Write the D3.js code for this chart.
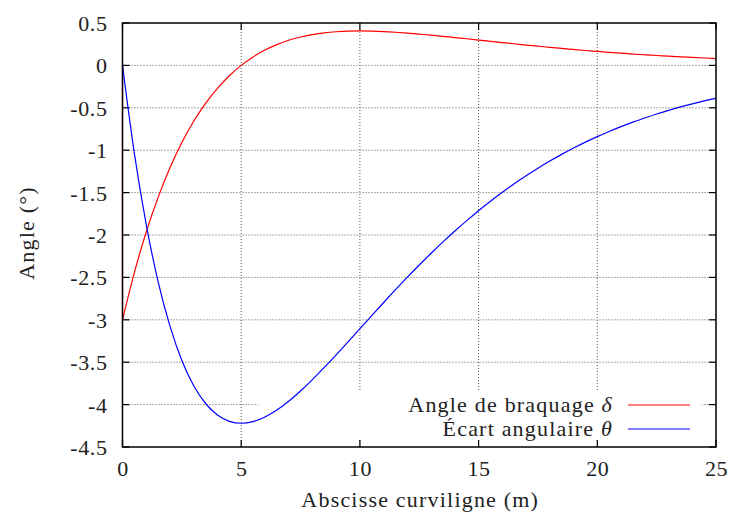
<!DOCTYPE html>
<html>
<head>
<meta charset="utf-8">
<script src="https://cdn.jsdelivr.net/npm/d3@7"></script>
<style>
  html, body { margin: 0; padding: 0; background: #fff; }
  svg text { font-family: "Liberation Serif", "DejaVu Serif", serif; fill: #222; letter-spacing: 0.6px; }
  svg text.wide { letter-spacing: 1.2px; }
</style>
</head>
<body>
<svg id="chart" width="734" height="515"></svg>
<script>
// ---- data ----
const sValues = [0,0.5,1,1.5,2,2.5,3,3.5,4,4.5,5,5.5,6,6.5,7,7.5,8,8.5,9,9.5,
                 10,10.5,11,11.5,12,12.5,13,13.5,14,14.5,15,15.5,16,16.5,17,17.5,18,18.5,19,19.5,
                 20,20.5,21,21.5,22,22.5,23,23.5,24,24.5,25];
// steering angle delta (deg); the curve starts at 0 and jumps to -3 at s = 0
const deltaStart = [0];
const deltaValues = [-3.000,-2.443,-1.965,-1.556,-1.207,-0.910,-0.659,-0.447,-0.270,-0.122,
                     0.000,0.100,0.181,0.245,0.296,0.335,0.363,0.384,0.397,0.404,
                     0.406,0.404,0.399,0.391,0.381,0.369,0.357,0.343,0.328,0.314,
                     0.299,0.284,0.269,0.255,0.240,0.227,0.213,0.200,0.188,0.176,
                     0.165,0.154,0.144,0.134,0.125,0.117,0.109,0.101,0.094,0.087,0.081];
// angular deviation theta (deg)
const thetaValues = [0.000,-1.038,-1.878,-2.549,-3.075,-3.479,-3.777,-3.987,-4.123,-4.197,
                     -4.220,-4.200,-4.146,-4.064,-3.960,-3.839,-3.705,-3.562,-3.413,-3.260,
                     -3.105,-2.950,-2.796,-2.645,-2.497,-2.354,-2.215,-2.081,-1.953,-1.830,
                     -1.713,-1.602,-1.496,-1.396,-1.302,-1.212,-1.128,-1.049,-0.975,-0.905,
                     -0.840,-0.779,-0.722,-0.669,-0.620,-0.573,-0.530,-0.490,-0.453,-0.419,-0.386];
const xTicks = [0,5,10,15,20,25];
const yTicks = [0.5,0,-0.5,-1,-1.5,-2,-2.5,-3,-3.5,-4,-4.5];
const seriesNames = ["Angle de braquage ", "Écart angulaire "];
const seriesSymbols = ["δ", "θ"];
const seriesColors = ["#ff0000", "#0000ff"];
const xTitle = "Abscisse curviligne (m)";
const yTitle = "Angle (°)";

// ---- layout ----
const svg = d3.select("#chart");
const L = 122.5, R = 716, T = 23, B = 447;
const x = d3.scaleLinear().domain([0,25]).range([L,R]);
const y = d3.scaleLinear().domain([-4.5,0.5]).range([B,T]);
const fs = 22;

// grid (dotted)
const grid = svg.append("g");
grid.selectAll(".gx").data(xTicks.filter(d => d > 0 && d < 25)).join("line")
  .attr("x1", d => x(d)).attr("x2", d => x(d)).attr("y1", T).attr("y2", B)
  .attr("stroke", "#555").attr("stroke-width", 1).attr("stroke-dasharray", "1,2");
grid.selectAll(".gy").data(yTicks.filter(d => d > -4.5 && d < 0.5)).join("line")
  .attr("x1", L).attr("x2", R).attr("y1", d => y(d)).attr("y2", d => y(d))
  .attr("stroke", "#555").attr("stroke-width", 1).attr("stroke-dasharray", "1,2");

// legend box clears grid
svg.append("rect").attr("x", 258).attr("y", 390).attr("width", 444).attr("height", 50).attr("fill", "#fff");

// ticks (inward, mirrored)
const tl = 7;
const tk = svg.append("g").attr("stroke", "#000").attr("stroke-width", 1.2);
xTicks.forEach(d => {
  tk.append("line").attr("x1", x(d)).attr("x2", x(d)).attr("y1", B).attr("y2", B - tl);
  tk.append("line").attr("x1", x(d)).attr("x2", x(d)).attr("y1", T).attr("y2", T + tl);
});
yTicks.forEach(d => {
  tk.append("line").attr("x1", L).attr("x2", L + tl).attr("y1", y(d)).attr("y2", y(d));
  tk.append("line").attr("x1", R).attr("x2", R - tl).attr("y1", y(d)).attr("y2", y(d));
});

// tick labels via d3 axes
const xAxis = svg.append("g").attr("transform", `translate(0,${B})`)
  .call(d3.axisBottom(x).tickValues(xTicks).tickSize(0).tickPadding(0).tickFormat(d3.format("")));
xAxis.attr("font-family", null).attr("font-size", null);
xAxis.select(".domain").remove();
xAxis.selectAll("text").attr("font-size", fs).attr("fill", "#222")
  .attr("dy", null).attr("y", 29);
const yAxis = svg.append("g").attr("transform", `translate(${L},0)`)
  .call(d3.axisLeft(y).tickValues(yTicks).tickSize(0).tickPadding(0).tickFormat(d => d3.format("")(d).replace("−","-")));
yAxis.attr("font-family", null).attr("font-size", null);
yAxis.select(".domain").remove();
yAxis.selectAll("text").attr("font-size", fs).attr("fill", "#222")
  .attr("x", -15).attr("dy", "0.34em");

// curves
const pts = (vals) => sValues.map((s, i) => [s, vals[i]]);
const line = d3.line().x(d => x(d[0])).y(d => y(d[1])).curve(d3.curveMonotoneX);
const lin = d3.line().x(d => x(d[0])).y(d => y(d[1]));
svg.append("path").attr("d", lin([[sValues[0], deltaStart[0]], [sValues[0], deltaValues[0]]]))
  .attr("fill", "none").attr("stroke", seriesColors[0]).attr("stroke-width", 1.2);
svg.append("path").attr("d", line(pts(deltaValues)))
  .attr("fill", "none").attr("stroke", seriesColors[0]).attr("stroke-width", 1.2);
svg.append("path").attr("d", line(pts(thetaValues)))
  .attr("fill", "none").attr("stroke", seriesColors[1]).attr("stroke-width", 1.2);

// border
svg.append("rect").attr("x", L).attr("y", T).attr("width", R - L).attr("height", B - T)
  .attr("fill", "none").attr("stroke", "#000").attr("stroke-width", 1.5);

// legend
seriesNames.forEach((n, i) => {
  const yy = 405 + i * 24;
  const t = svg.append("text").attr("class", "wide").attr("x", 613).attr("y", yy).attr("dy", "0.34em")
    .attr("text-anchor", "end").attr("font-size", fs);
  t.append("tspan").text(n);
  t.append("tspan").attr("font-style", "italic").text(seriesSymbols[i]);
  svg.append("line").attr("x1", 628).attr("x2", 690).attr("y1", yy).attr("y2", yy)
    .attr("stroke", seriesColors[i]).attr("stroke-width", 1.2);
});

// titles
svg.append("text").attr("class", "wide").attr("x", (L + R) / 2 + 1).attr("y", 507).attr("text-anchor", "middle")
  .attr("font-size", fs).text(xTitle);
svg.append("text").attr("class", "wide").attr("transform", `translate(34,233) rotate(-90)`)
  .attr("text-anchor", "middle").attr("font-size", fs).text(yTitle);
</script>
</body>
</html>
